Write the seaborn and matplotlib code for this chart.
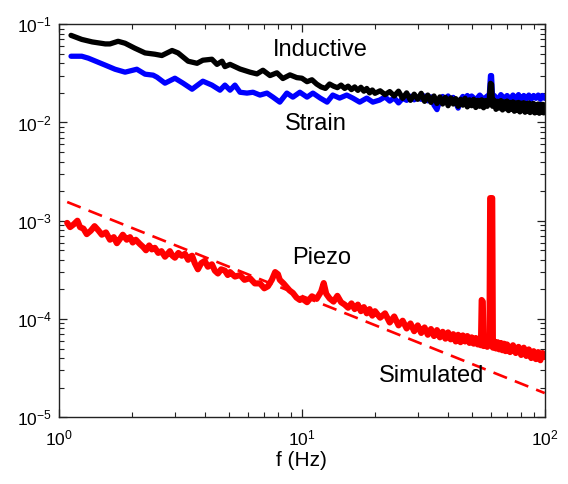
import matplotlib
matplotlib.use('Agg')
import matplotlib.pyplot as plt
from matplotlib.ticker import LogLocator
import seaborn as sns

# Values (log-log spectra)
inductive_f = [1.12, 1.24, 1.37, 1.55, 1.62, 1.75, 1.87, 2.05, 2.26, 2.48, 2.65, 2.92, 3.09, 3.40,
               3.70, 3.91, 4.26, 4.47, 4.69, 4.82, 5.06, 5.56, 6.11, 6.53, 6.91, 7.39, 7.89, 8.35,
               8.93, 9.53, 10.0, 10.5, 11.0, 11.5, 12.0, 12.5, 13.0, 13.5, 14.0, 14.5, 15.0, 15.5,
               16.0, 16.5, 17.0, 17.5, 18.0, 18.5, 19.0, 19.5, 20.0, 21.0, 22.0, 23.0, 24.0, 25.0,
               26.0, 27.0, 28.0, 29.0, 30.0, 31.0, 32.0, 33.0, 34.0, 35.0, 36.0, 37.0, 38.0, 39.0,
               40.0, 41.0, 42.0, 43.0, 44.0, 45.0, 46.0, 47.0, 48.0, 49.0, 50.0, 51.0, 52.0, 53.0,
               54.0, 55.0, 56.0, 57.0, 58.0, 59.0, 59.8, 60.4, 61.0, 62.0, 63.0, 64.0, 65.0, 66.0,
               67.0, 68.0, 69.0, 70.0, 71.0, 72.0, 73.0, 74.0, 75.0, 76.0, 77.0, 78.0, 79.0, 80.0,
               81.0, 82.0, 83.0, 84.0, 85.0, 86.0, 87.0, 88.0, 89.0, 90.0, 91.0, 92.0, 93.0, 94.0,
               95.0, 96.0, 97.0, 98.0, 99.0, 100.0]
inductive_v = [0.077, 0.070, 0.066, 0.063, 0.063, 0.067, 0.064, 0.057, 0.051, 0.0495, 0.048, 0.054,
               0.051, 0.042, 0.040, 0.043, 0.044, 0.039, 0.042, 0.037, 0.039, 0.0350, 0.0325, 0.0312,
               0.034, 0.0300, 0.0320, 0.0280, 0.0305, 0.0286, 0.0282, 0.0260, 0.0272, 0.0246, 0.0230,
               0.0222, 0.0246, 0.0234, 0.0226, 0.0240, 0.0222, 0.0234, 0.0216, 0.0230, 0.0212, 0.0228,
               0.0208, 0.0222, 0.0200, 0.0214, 0.0198, 0.0210, 0.0192, 0.0206, 0.0186, 0.0208, 0.0176,
               0.0200, 0.0168, 0.0194, 0.0172, 0.0198, 0.0164, 0.0190, 0.0160, 0.0186, 0.0156, 0.0182,
               0.0154, 0.0180, 0.0148, 0.0178, 0.0154, 0.0175, 0.0146, 0.0172, 0.0150, 0.0176, 0.0144,
               0.0170, 0.0148, 0.0172, 0.0142, 0.0168, 0.0146, 0.0170, 0.0141, 0.0167, 0.0146, 0.0164,
               0.0250, 0.0245, 0.0146, 0.0168, 0.0136, 0.0164, 0.0140, 0.0167, 0.0134, 0.0162, 0.0138,
               0.0165, 0.0132, 0.0160, 0.0136, 0.0162, 0.0130, 0.0158, 0.0134, 0.0160, 0.0128, 0.0157,
               0.0132, 0.0159, 0.0127, 0.0156, 0.0130, 0.0158, 0.0126, 0.0154, 0.0129, 0.0156, 0.0125,
               0.0152, 0.0128, 0.0154, 0.0124, 0.0152, 0.0127, 0.0153, 0.0125, 0.0150]

strain_f = [1.12, 1.24, 1.32, 1.55, 1.70, 1.87, 2.09, 2.26, 2.44, 2.53, 2.73, 3.00, 3.24, 3.53,
            3.91, 4.26, 4.60, 4.82, 5.06, 5.30, 5.56, 5.94, 6.29, 6.72, 7.18, 7.60, 8.11, 8.67,
            9.18, 9.81, 10.5, 11.1, 11.9, 12.7, 13.4, 14.3, 15.3, 16.2, 17.3, 18.5, 19.6, 20.9,
            22.0, 23.0, 24.0, 25.0, 26.0, 27.0, 28.0, 29.0, 30.0, 31.0, 32.0, 33.0, 34.0, 35.0,
            36.0, 37.0, 38.0, 39.0, 40.0, 41.0, 42.0, 43.0, 44.0, 45.0, 46.0, 47.0, 48.0, 49.0,
            50.0, 52.0, 54.0, 56.0, 58.0, 59.0, 59.8, 60.4, 61.0, 62.0, 64.0, 66.0, 68.0, 70.0,
            72.0, 74.0, 76.0, 78.0, 80.0, 82.0, 84.0, 86.0, 88.0, 90.0, 92.0, 94.0, 96.0, 98.0,
            100.0]
strain_v = [0.0472, 0.0472, 0.0451, 0.0383, 0.0348, 0.0325, 0.0348, 0.0310, 0.0303, 0.0289, 0.0251,
            0.0282, 0.0251, 0.0218, 0.0263, 0.0240, 0.0213, 0.0240, 0.0213, 0.0240, 0.0203, 0.0199,
            0.0203, 0.0190, 0.0199, 0.0181, 0.0161, 0.0199, 0.0181, 0.0203, 0.0181, 0.0199, 0.0177,
            0.0161, 0.0190, 0.0177, 0.0190, 0.0177, 0.0161, 0.0177, 0.0161, 0.0169, 0.0182, 0.0165,
            0.0178, 0.0158, 0.0176, 0.0168, 0.0185, 0.0170, 0.0180, 0.0172, 0.0186, 0.0166, 0.0182,
            0.0150, 0.0135, 0.0170, 0.0184, 0.0172, 0.0186, 0.0168, 0.0180, 0.0160, 0.0140, 0.0170,
            0.0184, 0.0170, 0.0188, 0.0174, 0.0186, 0.0170, 0.0190, 0.0172, 0.0186, 0.0175, 0.0300,
            0.0300, 0.0176, 0.0188, 0.0170, 0.0192, 0.0176, 0.0188, 0.0172, 0.0190, 0.0174, 0.0192,
            0.0170, 0.0188, 0.0174, 0.0190, 0.0172, 0.0188, 0.0176, 0.0190, 0.0172, 0.0188, 0.0176]

piezo_f = [1.08, 1.11, 1.15, 1.19, 1.22, 1.26, 1.30, 1.35, 1.40, 1.45, 1.50, 1.56, 1.62, 1.68,
           1.73, 1.78, 1.83, 1.90, 1.96, 2.01, 2.07, 2.15, 2.22, 2.28, 2.35, 2.41, 2.48, 2.56,
           2.64, 2.73, 2.80, 2.86, 2.93, 3.00, 3.10, 3.20, 3.30, 3.40, 3.47, 3.53, 3.62, 3.73,
           3.85, 3.98, 4.10, 4.26, 4.38, 4.51, 4.65, 4.82, 4.95, 5.06, 5.30, 5.56, 5.80, 6.11,
           6.40, 6.72, 7.00, 7.25, 7.52, 7.76, 7.97, 8.11, 8.40, 8.67, 8.90, 9.18, 9.50, 9.81,
           10.0, 10.5, 11.0, 11.5, 12.0, 12.3, 12.6, 13.0, 13.5, 14.0, 14.5, 15.0, 15.5, 16.0,
           16.5, 17.0, 17.5, 18.0, 18.5, 19.0, 19.5, 20.0, 21.0, 22.0, 23.0, 24.0, 25.0, 26.0,
           27.0, 28.0, 29.0, 30.0, 31.0, 32.0, 33.0, 34.0, 35.0, 36.0, 37.0, 38.0, 39.0, 40.0,
           41.0, 42.0, 43.0, 44.0, 45.0, 46.0, 47.0, 48.0, 49.0, 50.0, 51.0, 52.0, 53.0, 54.0,
           54.6, 55.0, 55.6, 56.0, 57.0, 58.0, 59.2, 59.6, 60.8, 61.2, 62.0, 63.0, 64.0, 65.0,
           66.0, 67.0, 68.0, 69.0, 70.0, 72.0, 74.0, 76.0, 78.0, 80.0, 82.0, 84.0, 86.0, 88.0,
           90.0, 92.0, 94.0, 96.0, 98.0, 100.0]
piezo_v = [9.5e-4, 8.6e-4, 9.2e-4, 1.0e-3, 8.6e-4, 8.3e-4, 7.3e-4, 7.9e-4, 8.8e-4, 8.0e-4, 7.2e-4,
           7.6e-4, 6.4e-4, 6.8e-4, 5.9e-4, 6.5e-4, 7.2e-4, 6.4e-4, 6.8e-4, 6.0e-4, 6.4e-4, 5.8e-4,
           5.4e-4, 5.0e-4, 5.6e-4, 5.1e-4, 5.3e-4, 4.7e-4, 4.9e-4, 4.3e-4, 4.6e-4, 4.9e-4, 4.4e-4,
           4.2e-4, 4.7e-4, 4.4e-4, 4.6e-4, 4.0e-4, 4.3e-4, 4.4e-4, 3.7e-4, 3.2e-4, 3.7e-4, 3.9e-4,
           3.4e-4, 3.6e-4, 3.1e-4, 2.9e-4, 3.2e-4, 3.1e-4, 2.8e-4, 3.0e-4, 2.7e-4, 2.8e-4, 2.5e-4,
           2.6e-4, 2.3e-4, 2.3e-4, 2.05e-4, 2.15e-4, 2.5e-4, 3.0e-4, 2.85e-4, 2.5e-4, 2.3e-4,
           2.1e-4, 1.95e-4, 1.84e-4, 1.65e-4, 1.56e-4, 1.62e-4, 1.48e-4, 1.70e-4, 1.60e-4, 1.90e-4,
           2.32e-4, 1.80e-4, 1.62e-4, 1.50e-4, 1.72e-4, 1.48e-4, 1.40e-4, 1.30e-4, 1.44e-4, 1.26e-4,
           1.40e-4, 1.20e-4, 1.32e-4, 1.14e-4, 1.26e-4, 1.08e-4, 1.20e-4, 1.03e-4, 1.14e-4, 9.2e-5,
           1.06e-4, 8.6e-5, 9.6e-5, 8.0e-5, 9.0e-5, 7.5e-5, 8.6e-5, 7.2e-5, 8.2e-5, 6.9e-5, 7.9e-5,
           6.7e-5, 7.7e-5, 6.5e-5, 7.4e-5, 6.3e-5, 7.3e-5, 6.2e-5, 7.0e-5, 5.9e-5, 6.9e-5, 5.8e-5,
           6.8e-5, 5.9e-5, 6.7e-5, 5.7e-5, 6.5e-5, 5.6e-5, 6.4e-5, 5.5e-5, 6.1e-5, 5.4e-5, 1.56e-4,
           1.50e-4, 5.3e-5, 6.0e-5, 5.2e-5, 5.5e-5, 1.70e-3, 1.70e-3, 5.1e-5, 5.9e-5, 5.0e-5, 5.8e-5,
           4.9e-5, 5.7e-5, 4.8e-5, 5.6e-5, 4.7e-5, 5.5e-5, 4.6e-5, 5.4e-5, 4.5e-5, 5.2e-5, 4.3e-5,
           5.1e-5, 4.2e-5, 4.9e-5, 4.0e-5, 4.7e-5, 3.9e-5, 4.6e-5, 3.8e-5, 4.5e-5, 4.1e-5]

# Simulated response: straight dashed line, two end points
simulated_f = [1.08, 100.0]
simulated_v = [1.55e-3, 1.76e-5]

sns.set_style('ticks')
plt.rcParams['font.family'] = ['Liberation Sans', 'DejaVu Sans']
plt.rcParams['text.color'] = 'black'
plt.rcParams['axes.labelcolor'] = 'black'
plt.rcParams['mathtext.fontset'] = 'custom'
plt.rcParams['mathtext.rm'] = 'Liberation Sans'
plt.rcParams['mathtext.it'] = 'Liberation Sans:italic'
plt.rcParams['mathtext.bf'] = 'Liberation Sans:bold'

fig = plt.figure(figsize=(5.68, 4.84), dpi=100)
ax = fig.add_axes([0.104, 0.138, 0.855, 0.812])

# Piezo + simulated (red)
sns.lineplot(x=simulated_f, y=simulated_v, ax=ax, color='#ff0000', lw=1.9,
             linestyle=(0, (5.5, 3.2)))
sns.lineplot(x=piezo_f, y=piezo_v, ax=ax, color='#ff0000', lw=4.4)
# Strain (blue) and Inductive (black)
sns.lineplot(x=strain_f, y=strain_v, ax=ax, color='#0000ff', lw=3.8)
sns.lineplot(x=inductive_f, y=inductive_v, ax=ax, color='#000000', lw=3.8)

ax.set_xscale('log')
ax.set_yscale('log')
ax.set_xlim(1, 100)
ax.set_ylim(1e-5, 1e-1)
ax.xaxis.set_minor_locator(LogLocator(base=10, subs=range(2, 10), numticks=20))
ax.yaxis.set_minor_locator(LogLocator(base=10, subs=range(2, 10), numticks=20))

# Curve labels
ax.text(11.9, 0.0544, 'Inductive', fontsize=17, ha='center', va='center', color='black')
ax.text(11.4, 9.6e-3, 'Strain', fontsize=17, ha='center', va='center', color='black')
ax.text(12.1, 4.2e-4, 'Piezo', fontsize=17, ha='center', va='center', color='black')
ax.text(34.3, 2.6e-5, 'Simulated', fontsize=17, ha='center', va='center', color='black')

ax.set_xlabel('f (Hz)', fontsize=15, labelpad=2, color='black')
ax.set_ylabel('')

# MATLAB-like box with inward ticks on all sides
for side in ['top', 'right', 'left', 'bottom']:
    ax.spines[side].set_visible(True)
    ax.spines[side].set_color('#222222')
    ax.spines[side].set_linewidth(1.0)
ax.tick_params(which='both', direction='in', top=True, right=True, colors='#222222',
               labelcolor='black')
ax.tick_params(which='major', length=6, width=0.9, labelsize=12.5)
ax.tick_params(which='minor', length=3.5, width=0.8)
ax.tick_params(axis='x', which='major', pad=8)
ax.tick_params(axis='y', which='major', pad=5)

plt.savefig('out.png', dpi=100)
plt.close()
